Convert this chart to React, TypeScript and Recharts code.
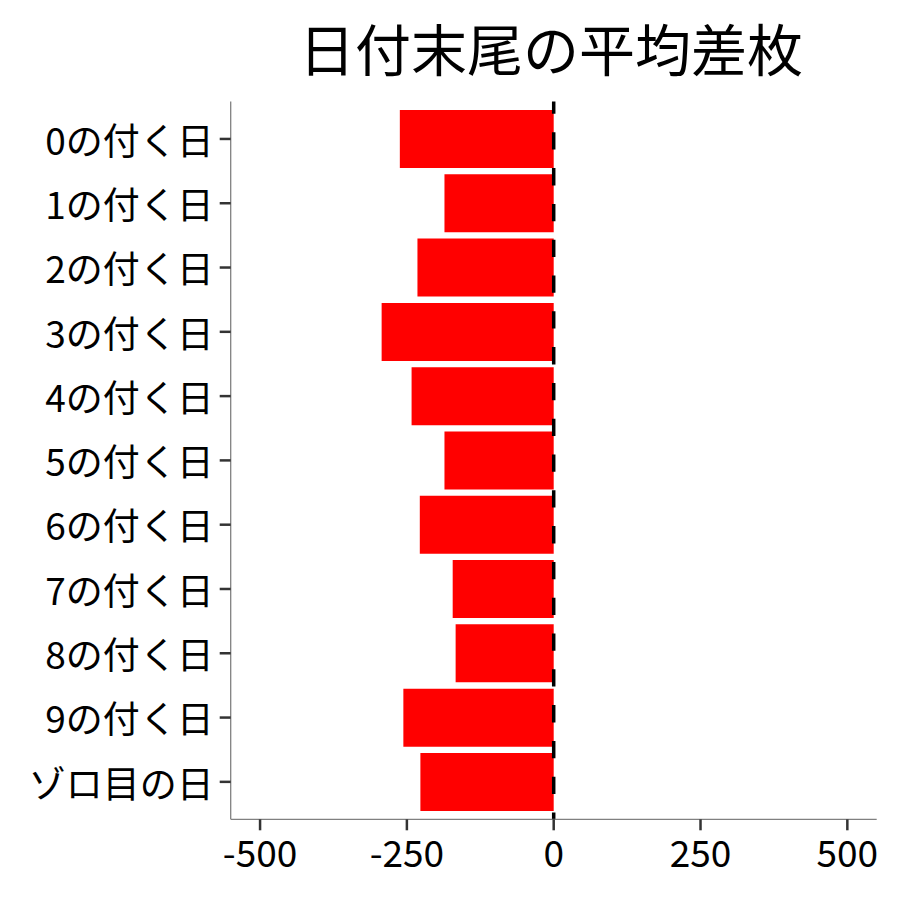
import React from 'react';
import { BarChart, Bar, XAxis, YAxis, ReferenceLine } from 'recharts';

const categories = ['0の付く日', '1の付く日', '2の付く日', '3の付く日', '4の付く日', '5の付く日', '6の付く日', '7の付く日', '8の付く日', '9の付く日', 'ゾロ目の日'];
const values = [-262, -186, -232, -293, -242, -186, -228, -172, -167, -256, -227];
const xTicks = [-500, -250, 0, 250, 500];
const title = '日付末尾の平均差枚';

const rows = categories.map((name, i) => ({ name, value: values[i] }));

const FONT = '"Noto Sans CJK JP", "Noto Sans", sans-serif';

const XTick = (props: any) => {
  const { x, y, payload } = props;
  return (
    <text x={x} y={y} dy={34.4} textAnchor="middle" fontFamily={FONT} fontSize={37} fill="#000">
      {payload.value}
    </text>
  );
};

const YTick = (props: any) => {
  const { x, y, payload } = props;
  return (
    <text x={x} y={y} dy={15.7} textAnchor="end" fontFamily={FONT} fontSize={37} fill="#000">
      {payload.value}
    </text>
  );
};

export default function App() {
  return (
    <div style={{ position: 'absolute', left: 0, top: 0, width: 900, height: 900, background: '#fff' }}>
      <BarChart
        width={900}
        height={900}
        data={rows}
        layout="vertical"
        margin={{ top: 101.5, right: 23.3, bottom: 0, left: 0 }}
        barCategoryGap="5%"
      >
        <XAxis
          type="number"
          domain={[-550, 550]}
          ticks={xTicks}
          allowDataOverflow
          interval={0}
          height={80.7}
          tickSize={11}
          tickMargin={2}
          axisLine={{ stroke: '#808080', strokeWidth: 1.3 }}
          tickLine={{ stroke: '#333333', strokeWidth: 2.5 }}
          tick={(p: any) => <XTick {...p} />}
        />
        <YAxis
          type="category"
          dataKey="name"
          width={230.7}
          interval={0}
          padding={{ top: 5.3, bottom: 5.3 }}
          tickSize={11}
          tickMargin={6}
          axisLine={{ stroke: '#808080', strokeWidth: 1.3 }}
          tickLine={{ stroke: '#333333', strokeWidth: 2.5 }}
          tick={(p: any) => <YTick {...p} />}
        />
        <Bar dataKey="value" fill="#ff0000" isAnimationActive={false} />
        <ReferenceLine
          x={0}
          stroke="#000"
          strokeWidth={3.5}
          strokeDasharray="17.3 18.5"
          strokeDashoffset={10.5}
          ifOverflow="visible"
        />
      </BarChart>
      <svg width={900} height={100} style={{ position: 'absolute', left: 0, top: 0 }}>
        <text x={551} y={46} dominantBaseline="central" textAnchor="middle" fontFamily={FONT} fontSize={56} fill="#000">
          {title}
        </text>
      </svg>
    </div>
  );
}
